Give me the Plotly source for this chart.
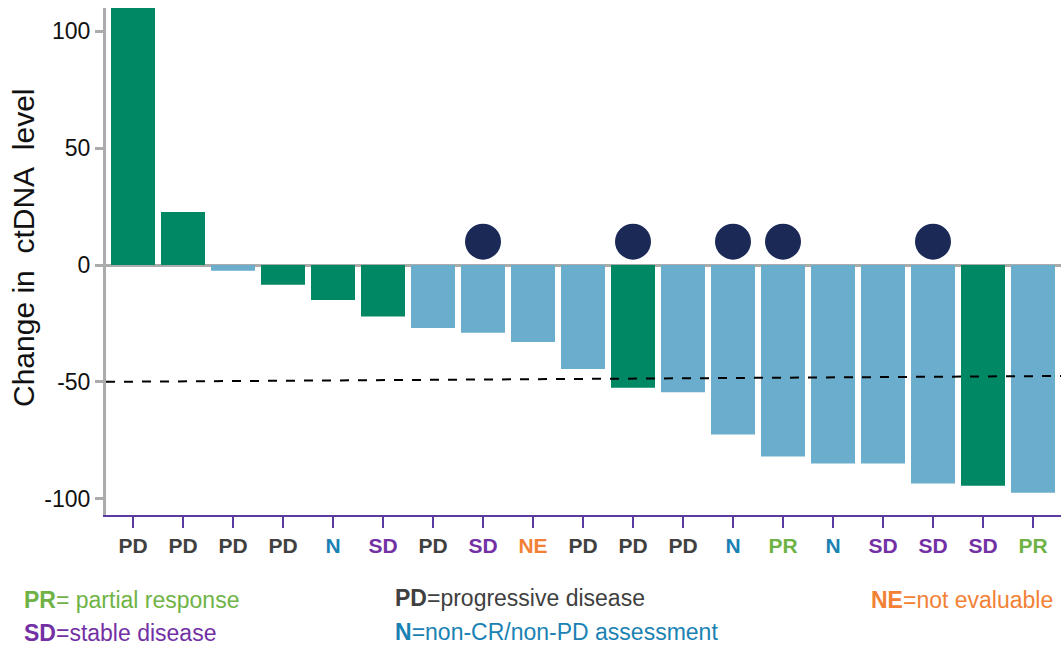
import plotly.graph_objects as go

# ---- data ----
patients = [f"P{i+1}" for i in range(19)]
response = ["PD", "PD", "PD", "PD", "N", "SD", "PD", "SD", "NE", "PD",
            "PD", "PD", "N", "PR", "N", "SD", "SD", "SD", "PR"]
change = [112, 22.7, -2.5, -8.5, -15, -22, -27, -29, -33, -44.5,
          -52.5, -54.5, -72.5, -82, -85, -85, -93.5, -94.5, -97.5]
bar_group = ["g", "g", "b", "g", "g", "g", "b", "b", "b", "b",
             "g", "b", "b", "b", "b", "b", "b", "g", "b"]
dot_flag = [0, 0, 0, 0, 0, 0, 0, 1, 0, 0, 1, 0, 1, 1, 0, 0, 1, 0, 0]
dot_level = 10
threshold_y = [-50, -47.5]
y_ticks = [100, 50, 0, -50, -100]
y_tick_labels = ["100", "50", "0", "-50", "-100"]

# ---- styles ----
GREEN = "#008763"
LBLUE = "#6badcc"
DOT = "#1b2957"
resp_color = {"PD": "#404040", "N": "#1a82b3", "SD": "#7330a5",
              "NE": "#f28135", "PR": "#6fb346"}
FONT = "Arial, Liberation Sans, sans-serif"
W, H = 1061, 645
ML, MR, MT, MB = 106, 0, 8, 130

bar_colors = [GREEN if g == "g" else LBLUE for g in bar_group]
ticktext = [f"<b><span style='color:{resp_color[r]}'>{r}</span></b>" for r in response]

fig = go.Figure()
fig.add_trace(go.Bar(x=patients, y=change, marker=dict(color=bar_colors, line_width=0),
                     hoverinfo="skip"))
dx = [p for p, f in zip(patients, dot_flag) if f]
fig.add_trace(go.Scatter(x=dx, y=[dot_level] * len(dx), mode="markers",
                         marker=dict(size=36, color=DOT, line_width=0), hoverinfo="skip"))

fig.add_shape(type="line", xref="paper", yref="y", x0=0, x1=1,
              y0=threshold_y[0], y1=threshold_y[1],
              line=dict(color="black", width=2, dash="dash"), layer="above")

fig.update_layout(
    width=W, height=H,
    margin=dict(l=ML, r=MR, t=MT, b=MB),
    plot_bgcolor="white", paper_bgcolor="white",
    showlegend=False, bargap=0.12,
    font=dict(family=FONT, color="#111111"),
)
fig.update_xaxes(
    range=[-0.54, 18.56], tickmode="array", tickvals=patients, ticktext=ticktext,
    tickfont=dict(size=21, family=FONT), showline=True, linecolor="#5b3c9e", linewidth=2,
    ticks="outside", tickcolor="#5b3c9e", ticklen=11, tickwidth=2, showgrid=False,
)
fig.update_yaxes(
    range=[-107, 110], tickmode="array", tickvals=y_ticks, ticktext=y_tick_labels,
    tickfont=dict(size=23, family=FONT, color="#111111"),
    showline=True, linecolor="#ababab", linewidth=3,
    ticks="outside", tickcolor="#ababab", ticklen=8, tickwidth=3,
    showgrid=False, zeroline=True, zerolinecolor="#ababab", zerolinewidth=3,
)


def px_to_paper(px, py):
    return (px - ML) / (W - ML - MR), (H - MB - py) / (H - MT - MB)


tx, ty = px_to_paper(23, 248)
fig.add_annotation(xref="paper", yref="paper", x=tx, y=ty, xanchor="center", yanchor="middle",
                   showarrow=False, textangle=-90,
                   text="Change in\u00a0\u00a0ctDNA\u00a0\u00a0level",
                   font=dict(size=30, family=FONT, color="#111111"))

legend_items = [
    ("PR", "= partial response", 22, 600, "left"),
    ("SD", "=stable disease", 22, 633, "left"),
    ("PD", "=progressive disease", 393, 598, "left"),
    ("N", "=non-CR/non-PD assessment", 393, 632, "left"),
    ("NE", "=not evaluable", 1055, 600, "right"),
]
for code, desc, px, py, anchor in legend_items:
    ax, ay = px_to_paper(px, py)
    fig.add_annotation(
        xref="paper", yref="paper", x=ax, y=ay,
        xanchor=anchor, yanchor="middle", showarrow=False,
        text=f"<b>{code}</b>{desc}",
        font=dict(size=23, family=FONT, color=resp_color[code]),
    )

fig.write_html("out.html", config={"displayModeBar": False},
               post_script="document.body.style.margin='0';document.body.style.overflow='hidden';")
